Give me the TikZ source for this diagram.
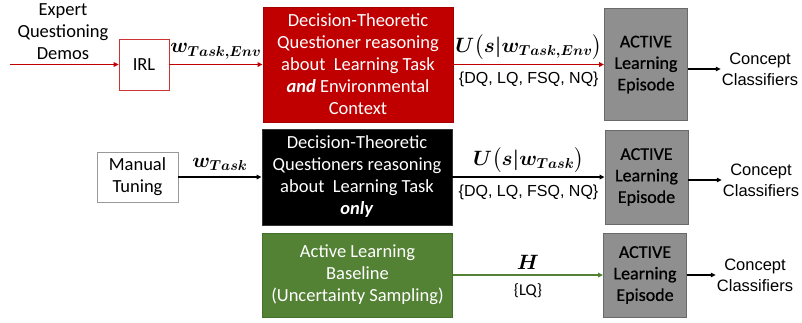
\documentclass[tikz,border=0pt]{standalone}
\usepackage{fontspec}
\usepackage{amsmath,bm}
\setmainfont{Carlito}
\newfontfamily\arialf{Liberation Sans}
\newfontfamily\epifont{Carlito}[FakeBold=0.8]
\usetikzlibrary{arrows.meta}
\definecolor{dred}{HTML}{C00000}
\definecolor{dgreen}{HTML}{548235}
\definecolor{dgreenb}{HTML}{41702A}
\definecolor{grayb}{HTML}{6A6A6A}
\definecolor{grayfill}{HTML}{8F8F8F}
\tikzset{
  bigbox/.style={draw, line width=0.8pt, minimum width=190pt, text=white, align=center,
    font=\fontsize{18.5}{22}\selectfont, inner sep=0pt},
  epibox/.style={draw=grayb, line width=0.8pt, fill=grayfill,
    minimum width=83pt, inner sep=0pt},
  epitxt/.style={text=black, align=center, font=\epifont\fontsize{18}{21.5}\selectfont, inner sep=0pt},
  smallbox/.style={draw, line width=0.6pt, fill=white, align=center,
    font=\fontsize{18.5}{22}\selectfont, inner sep=0pt},
  plain/.style={align=center, font=\fontsize{18.5}{22}\selectfont, inner sep=0pt},
  ctext/.style={align=center, font=\arialf\fontsize{16.5}{21}\selectfont, inner sep=1pt},
  set/.style={font=\arialf\fontsize{16}{19}\selectfont, inner sep=0pt},
  mlab/.style={font=\fontsize{20}{22}\selectfont, inner sep=0pt},
  arr/.style={-{Triangle[length=5pt,width=4.5pt]}, line width=1.3pt},
}
\begin{document}
\begin{tikzpicture}[x=1pt,y=-1pt]
\useasboundingbox (0,0) rectangle (802,322);

% gray episode boxes (drawn first, text on top)
\node[epibox, minimum height=112pt] (g1) at (646,64.5) {};
\node[epibox, minimum height=94pt] (g2) at (646.5,177) {};
\node[epibox, minimum height=84pt] (g3) at (645,275) {};
\node[epitxt] (t1) at (g1) {ACTIVE\\Learning\\Episode};
\node[epitxt] (t2) at (g2) {ACTIVE\\Learning\\Episode};
\node[epitxt] (t3) at (g3) {ACTIVE\\Learning\\Episode};

% row 1
\node[plain] (expert) at (63,32) {Expert\\Questioning\\Demos};
\coordinate (start) at (10,64.5);
\node[smallbox, draw=dred!80, minimum width=50pt, minimum height=51pt] (irl) at (144,64.5) {IRL};
\node[bigbox, draw=dred!85!black, fill=dred, minimum height=115pt] (red) at (358,64.5)
  {Decision-Theoretic\\Questioner reasoning\\about~ Learning Task\\\textbf{\textit{and}} Environmental\\Context};
\node[ctext] (c1) at (760,69) {Concept\\Classifiers};
\draw[arr, dred] (start) -- (irl);
\draw[arr, dred] (irl) -- node[mlab, above=5pt, text=black] {$\bm{w_{Task,Env}}$} (red);
\draw[arr, dred] (red) -- node[mlab, above=4pt, text=black] {$\bm{U\big(s|w_{Task,Env}\big)}$}
  node[set, below=7pt, text=black] {\{DQ, LQ, FSQ, NQ\}} (g1);
\draw[arr, black] (g1.east |- c1) -- (c1);

% row 2
\node[smallbox, draw=gray!80, minimum width=81pt, minimum height=50pt] (man) at (137.5,177) {Manual\\Tuning};
\node[bigbox, draw=black!80, fill=black, minimum height=96pt] (blk) at (357,177)
  {Decision-Theoretic\\Questioners reasoning\\about~ Learning Task\\\textbf{\textit{only}}};
\node[ctext] (c2) at (761,180) {Concept\\Classifiers};
\draw[arr, black] (man) -- node[mlab, above=6pt] {$\bm{w_{Task}}$} (blk);
\draw[arr, black] (blk) -- node[mlab, above=4pt] {$\bm{U\big(s|w_{Task}\big)}$}
  node[set, below=7pt] {\{DQ, LQ, FSQ, NQ\}} (g2);
\draw[arr, black] (g2.east |- c2) -- (c2);

% row 3
\node[bigbox, draw=dgreenb, fill=dgreen, minimum height=84pt] (grn) at (357.5,275)
  {Active Learning\\Baseline\\(Uncertainty Sampling)};
\node[ctext] (c3) at (755,275) {Concept\\Classifiers};
\draw[arr, dgreen] (grn) -- node[mlab, above=5pt, text=black] {$\bm{H}$}
  node[font=\fontsize{16.5}{19}\selectfont, below=8pt, text=black, inner sep=0pt] {\{LQ\}} (g3);
\draw[arr, black] (g3.east |- c3) -- (c3);
\end{tikzpicture}
\end{document}
